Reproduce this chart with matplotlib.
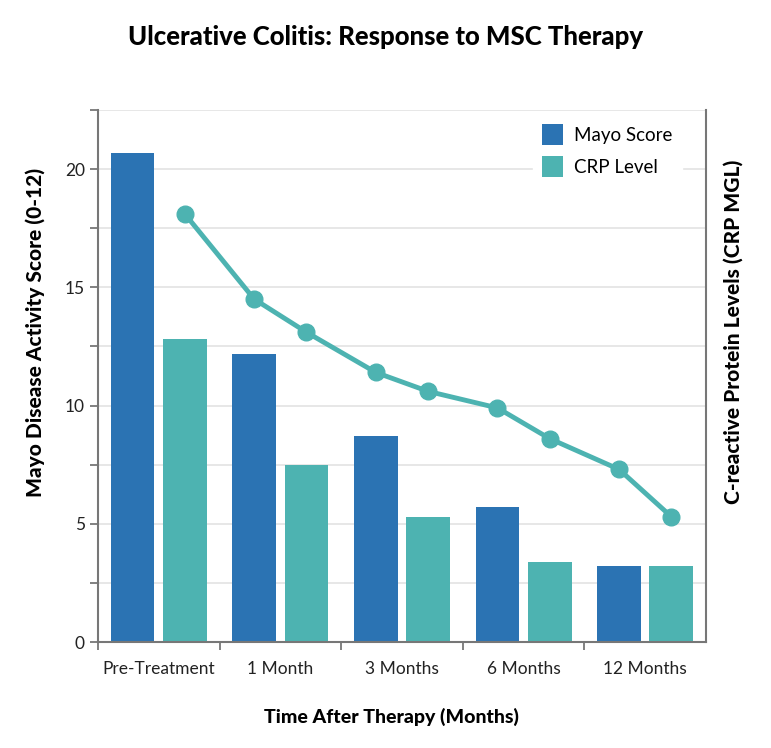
import matplotlib.pyplot as plt
import numpy as np

plt.rcParams['font.family'] = ['Lato', 'DejaVu Sans']

# data
categories = ['Pre-Treatment', '1 Month', '3 Months', '6 Months', '12 Months']
mayo_score = [20.7, 12.2, 8.7, 5.7, 3.2]
crp_level = [12.8, 7.5, 5.3, 3.4, 3.2]
# trend line goes through bar centres (skipping the first Mayo bar)
trend_values = [18.1, 14.5, 13.1, 11.4, 10.6, 9.9, 8.6, 7.3, 5.3]

blue = '#2b73b3'
teal = '#4db3b1'

x = np.arange(len(categories))
width = 0.36
offset = 0.215

fig = plt.figure(figsize=(7.71, 7.48), dpi=100)
ax = fig.add_axes([0.127, 0.1417, 0.7887, 0.7113])

ax.bar(x - offset, mayo_score, width, color=blue, label='Mayo Score', zorder=2)
ax.bar(x + offset, crp_level, width, color=teal, label='CRP Level', zorder=2)

line_x = []
for i in range(len(categories)):
    if i > 0:
        line_x.append(x[i] - offset)
    line_x.append(x[i] + offset)
ax.plot(line_x, trend_values, color=teal, lw=3.5, marker='o', ms=12, zorder=3)

ax.set_xlim(-0.5, 4.5)
ax.set_ylim(0, 22.5)
ax.set_yticks([0, 5, 10, 15, 20])
ax.set_yticks(np.arange(0, 22.6, 2.5), minor=True)
ax.set_xticks(x)
ax.set_xticklabels(categories)
ax.set_xticks([-0.5, 0.5, 1.5, 2.5, 3.5], minor=True)
ax.tick_params(axis='x', which='major', length=0, pad=14, labelsize=12.5, labelcolor='#222222')
ax.tick_params(axis='x', which='minor', length=6, width=1.3, color='#777777')
ax.tick_params(axis='y', which='both', length=6, width=1.3, color='#777777',
               labelsize=12.5, labelcolor='#222222')
ax.grid(axis='y', which='both', color='#e3e3e3', lw=1.2, zorder=0)
ax.set_axisbelow(True)

for side in ['left', 'bottom', 'right']:
    ax.spines[side].set_color('#777777')
    ax.spines[side].set_linewidth(1.5)
ax.spines['top'].set_visible(False)

fig.text(0.045, 0.556, 'Mayo Disease Activity Score (0-12)', rotation=90,
         ha='center', va='center', fontsize=15, fontweight='black')
fig.text(0.951, 0.556, 'C-reactive Protein Levels (CRP MGL)', rotation=90,
         ha='center', va='center', fontsize=15, fontweight='black')
fig.text(0.508, 0.041, 'Time After Therapy (Months)', ha='center', va='center',
         fontsize=14, fontweight='black')
fig.suptitle('Ulcerative Colitis: Response to MSC Therapy', y=0.95, va='center',
             fontsize=18.5, fontweight='black')

leg = ax.legend(loc='upper left', bbox_to_anchor=(0.70, 1.008), frameon=True,
                fancybox=False, edgecolor='white', framealpha=1, fontsize=13.5,
                handlelength=1.1, handleheight=1.3, borderpad=0.5,
                labelspacing=0.6, handletextpad=0.6)
leg.set_zorder(5)

plt.savefig('out.png', dpi=100)
